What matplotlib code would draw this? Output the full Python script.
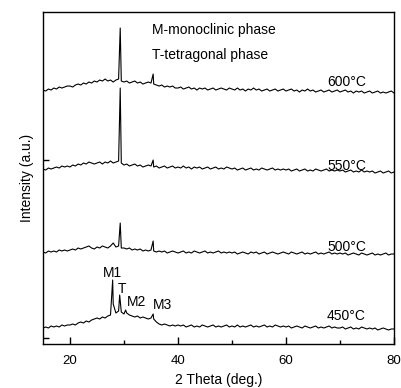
import numpy as np
import matplotlib
matplotlib.use("Agg")
import matplotlib.pyplot as plt

plt.rcParams['font.family'] = ['Liberation Sans', 'DejaVu Sans']

# 2 theta grid of the background scan (0.5 deg steps, 15..80)
two_theta = np.arange(15.0, 80.01, 0.5)

# background intensities (a.u., stacked offsets included)
i600 = [254, 253, 255, 254, 256, 255, 257, 256, 257, 258,
        258, 257, 259, 260, 259, 261, 260, 262, 261, 263,
        262, 264, 263, 265, 263, 264, 262, 264, 265,
        263,
        262, 263, 261, 262, 263, 261, 262, 260, 261, 262,
        261, 260, 259, 258, 259, 257, 258, 257, 258, 256,
        256, 257, 255, 256, 257, 255, 256, 254, 256, 255, 256, 254, 255, 256, 254, 255, 256, 255, 254, 256,
        255, 254, 256, 254, 255, 253, 255, 254, 256, 254, 255, 253, 254, 255, 253, 254, 255, 253, 254, 255,
        253, 254, 255, 253, 254, 252, 254, 253, 255, 253, 254, 252, 253, 254, 252, 253, 254, 252, 253, 254,
        252, 253, 254, 252, 253, 251, 253, 252, 253, 251, 252, 253, 251, 252, 253, 251, 252, 251, 252, 253, 251]
i550 = [175, 174, 176, 175, 176, 177, 176, 178, 177, 178,
        177, 179, 178, 180, 179, 181, 180, 182, 181, 180,
        181, 182, 180, 182, 181, 183, 181, 182, 183,
        181,
        179, 180, 178, 179, 180, 178, 179, 177, 178, 179,
        178, 177, 178, 176, 177, 178, 176, 177, 178, 176,
        177, 176, 178, 176, 177, 175, 177, 176, 177, 175, 176, 177, 175, 176, 177, 175, 176, 175, 177, 176,
        175, 176, 174, 175, 176, 174, 175, 176, 174, 175, 174, 176, 175, 174, 175, 176, 174, 175, 174, 175,
        174, 175, 173, 174, 175, 173, 174, 175, 173, 174, 173, 175, 174, 173, 174, 175, 173, 174, 173, 174,
        173, 174, 172, 173, 174, 172, 173, 172, 174, 172, 173, 172, 173, 171, 172, 173, 171, 172, 173, 171, 172]
i500 = [92, 91, 93, 92, 93, 92, 94, 93, 94, 93,
        94, 95, 94, 96, 95, 96, 97, 98, 96, 95,
        97, 96, 98, 97, 96, 98, 101, 97, 98,
        96,
        96, 95, 96, 94, 95, 94, 95, 93, 94, 93,
        94, 93, 92, 93, 92, 93, 91, 92, 93, 92,
        91, 92, 93, 91, 92, 91, 93, 92, 91, 92, 93, 91, 92, 91, 92, 93, 91, 92, 91, 92,
        91, 92, 90, 91, 92, 91, 90, 92, 91, 92, 90, 91, 92, 90, 91, 92, 91, 90, 91, 92,
        91, 90, 92, 91, 90, 91, 92, 90, 91, 90, 91, 92, 90, 91, 90, 91, 92, 90, 91, 90,
        91, 90, 91, 89, 90, 91, 90, 89, 91, 90, 89, 90, 91, 89, 90, 89, 90, 91, 89, 90, 90]
i450 = [16, 17, 16, 18, 17, 18, 17, 19, 18, 19,
        19, 20, 19, 21, 22, 21, 23, 22, 24, 25,
        26, 25, 27, 26, 28, 29, 40, 31, 33,
        32,
        30, 31, 29, 28, 27, 28, 26, 27, 26, 25,
        26, 25, 22, 20, 19, 20, 19, 18, 19, 18,
        19, 18, 19, 17, 18, 19, 17, 18, 17, 19, 18, 17, 18, 19, 17, 18, 17, 18, 19, 17,
        18, 17, 19, 17, 18, 17, 18, 19, 17, 18, 17, 18, 19, 17, 18, 17, 19, 18, 17, 18,
        17, 18, 16, 17, 18, 17, 16, 18, 17, 16, 17, 18, 16, 17, 16, 17, 18, 16, 17, 16,
        16, 17, 15, 16, 17, 15, 16, 15, 17, 16, 15, 16, 15, 16, 14, 15, 16, 15, 14, 15, 15]

# diffraction peaks (position, top)
p600_theta = [29.3, 35.4]
p600_top = [316, 270]
p550_theta = [29.3, 35.4]
p550_top = [256, 184]
p500_theta = [29.3, 35.4]
p500_top = [121, 103]
p450_theta = [27.9, 29.2, 30.3, 35.4]
p450_top = [64, 49, 34, 30]

temps = ['600°C', '550°C', '500°C', '450°C']
temp_label_y = [262, 178, 97, 28]


def merge(bg, px, py):
    x = np.concatenate([two_theta, px])
    y = np.concatenate([bg, py])
    order = np.argsort(x, kind='stable')
    return x[order], y[order]


fig = plt.figure(figsize=(4.02, 3.88), dpi=100)
ax = fig.add_axes([0.107, 0.1134, 0.873, 0.8556])

series = [(i600, p600_theta, p600_top), (i550, p550_theta, p550_top),
          (i500, p500_theta, p500_top), (i450, p450_theta, p450_top)]
for (bg, px, py), lab, ly in zip(series, temps, temp_label_y):
    x, y = merge(bg, px, py)
    ax.plot(x, y, color='black', lw=0.8)
    ax.text(74.8, ly, lab, ha='right', va='center', fontsize=10)

ax.text(35.1, 314, 'M-monoclinic phase', ha='left', va='center', fontsize=10)
ax.text(35.1, 289, 'T-tetragonal phase', ha='left', va='center', fontsize=10)

ax.text(27.8, 71, 'M1', ha='center', va='center', fontsize=10)
ax.text(29.7, 55, 'T', ha='center', va='center', fontsize=10)
ax.text(32.3, 42, 'M2', ha='center', va='center', fontsize=10)
ax.text(37.2, 39, 'M3', ha='center', va='center', fontsize=10)

ax.set_xlim(15, 80)
ax.set_ylim(0, 332)
ax.set_xticks([20, 40, 60, 80])
ax.set_xticks([30, 50, 70], minor=True)
ax.set_yticks([6, 184])
ax.set_yticklabels([])
ax.tick_params(axis='x', which='major', direction='in', length=5, width=1, pad=8, labelsize=9.5)
ax.tick_params(axis='x', which='minor', direction='in', length=3, width=1)
ax.tick_params(axis='y', direction='in', length=4, width=1)
for s in ax.spines.values():
    s.set_linewidth(1.0)

ax.set_xlabel('2 Theta (deg.)', fontsize=10, labelpad=4)
ax.set_ylabel('Intensity (a.u.)', fontsize=10, labelpad=3)

fig.savefig('out.png', dpi=100)
